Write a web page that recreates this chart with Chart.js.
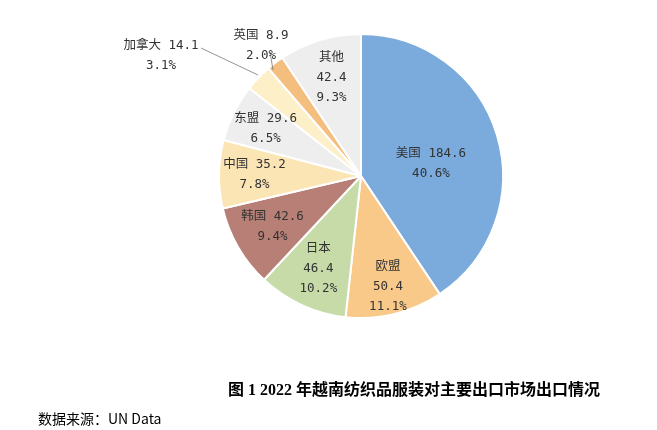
<!DOCTYPE html>
<html><head><meta charset="utf-8">
<script src="https://cdn.jsdelivr.net/npm/chart.js@4/dist/chart.umd.min.js"></script>
<style>
body{margin:0;background:#fff;font-family:"Noto Sans CJK SC",sans-serif}
#wrap{position:relative;width:657px;height:430px}
#title{position:absolute;top:376px;left:228px;font:bold 16px "Liberation Serif","Noto Sans CJK SC";color:#000}
#src{position:absolute;top:408px;left:38px;font:14px "Noto Sans CJK SC";color:#000}
</style></head><body>
<div id="wrap"><canvas id="pie" width="657" height="430"></canvas>
<div id="title">图 1 2022 年越南纺织品服装对主要出口市场出口情况</div>
<div id="src">数据来源：UN Data</div></div>
<script>
const markets = ['美国', '欧盟', '日本', '韩国', '中国', '东盟', '加拿大', '英国', '其他']
const values = [184.6, 50.4, 46.4, 42.6, 35.2, 29.6, 14.1, 8.9, 42.4]
const shares = ['40.6%', '11.1%', '10.2%', '9.4%', '7.8%', '6.5%', '3.1%', '2.0%', '9.3%']
const colors = ['#7aabdc', '#f9c98a', '#c6dba8', '#b77f75', '#fbe5b5', '#eeeeee', '#fdf0c8', '#f4be7e', '#eeeeee']
// label placement: fraction of radius, or fixed offset for outside labels
const labelPos = [0.5, 0.8, 0.72, 0.72, 0.75, 0.75, null, null, 0.72]
const outside = { 6: { dx: -200, dy: -120, line: [-103, -101, -160, -128] }, 7: { dx: -100, dy: -130, line: [-88, -106, -91, -124] } }

const labels = {
  id: 'labels',
  afterDatasetsDraw (chart) {
    const ctx = chart.ctx
    const meta = chart.getDatasetMeta(0)
    ctx.save()
    ctx.font = '12.5px "DejaVu Sans Mono","Noto Sans CJK SC"'
    ctx.fillStyle = '#333'
    ctx.textAlign = 'center'
    ctx.textBaseline = 'middle'
    meta.data.forEach((arc, i) => {
      const p = arc.getProps(['x', 'y', 'startAngle', 'endAngle', 'outerRadius'], true)
      let x, y
      if (outside[i]) {
        const o = outside[i]
        x = p.x + o.dx; y = p.y + o.dy
        ctx.strokeStyle = '#777'; ctx.lineWidth = 0.8
        ctx.beginPath(); ctx.moveTo(p.x + o.line[0], p.y + o.line[1]); ctx.lineTo(p.x + o.line[2], p.y + o.line[3]); ctx.stroke()
      } else {
        const a = (p.startAngle + p.endAngle) / 2 + (i === 0 ? 0.12 : 0)
        x = p.x + Math.cos(a) * p.outerRadius * labelPos[i]
        y = p.y + Math.sin(a) * p.outerRadius * labelPos[i]
      }
      if (i === 2 || i === 8 || i === 1) {
        ctx.fillText(markets[i], x, y - 20)
        ctx.fillText(String(values[i]), x, y)
        ctx.fillText(shares[i], x, y + 20)
      } else {
        ctx.fillText(markets[i] + ' ' + values[i], x, y - 10)
        ctx.fillText(shares[i], x, y + 10)
      }
    })
    ctx.restore()
  }
}

new Chart(document.getElementById('pie'), {
  type: 'pie',
  data: { labels: markets, datasets: [{ data: values, backgroundColor: colors, borderColor: '#fff', borderWidth: 2 }] },
  options: {
    responsive: false,
    animation: false,
    layout: { padding: { top: 33, bottom: 111, left: 216, right: 151 } },
    plugins: { legend: { display: false }, tooltip: { enabled: false } }
  },
  plugins: [labels]
})
</script></body></html>
